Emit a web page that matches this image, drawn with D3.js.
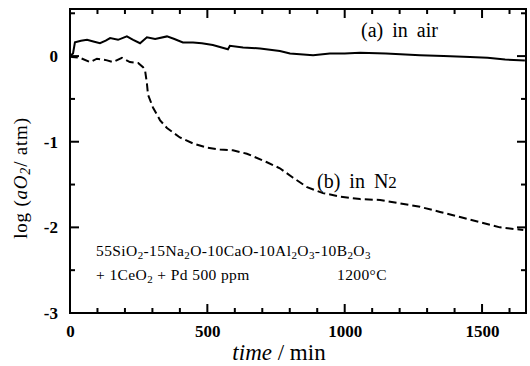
<!DOCTYPE html>
<html><head><meta charset="utf-8">
<script src="https://cdn.jsdelivr.net/npm/d3@7"></script>
<style>body{margin:0;background:#fff}svg{display:block}text{font-family:"Liberation Serif","Times New Roman",serif;fill:#000}</style>
</head><body><svg id="c" width="530" height="366"></svg>
<script>
const airTime = [0,11,18,40,62,85,109,130,146,175,207,230,255,280,310,353,380,411,448,480,520,575,582,630,692,764,801,885,946,1000,1056,1150,1274,1360,1456,1520,1584,1656];
const airLog  = [0,0.03,0.16,0.18,0.19,0.17,0.15,0.18,0.21,0.19,0.23,0.19,0.15,0.22,0.20,0.23,0.20,0.16,0.16,0.15,0.13,0.08,0.12,0.10,0.09,0.06,0.03,0.01,0.03,0.03,0.04,0.03,0.01,0.0,-0.01,-0.02,-0.04,-0.05];
const n2Time = [0,7,36,73,98,135,157,189,218,248,266,273,280,284,302,328,353,400,448,499,546,593,644,666,717,764,812,863,921,983,1056,1129,1201,1274,1347,1420,1493,1565,1620,1650];
const n2Log  = [0,-0.01,-0.02,-0.07,-0.03,-0.05,-0.07,-0.02,-0.07,-0.08,-0.13,-0.16,-0.32,-0.45,-0.60,-0.75,-0.84,-0.95,-1.02,-1.07,-1.09,-1.10,-1.14,-1.17,-1.24,-1.31,-1.42,-1.53,-1.60,-1.64,-1.67,-1.68,-1.72,-1.76,-1.82,-1.88,-1.94,-2.00,-2.02,-2.03];
const xTicks = [0,500,1000,1500];
const yTicks = [0,-1,-2,-3];
const xMinorTicks = [100,200,300,400,600,700,800,900,1100,1200,1300,1400,1600];
const yMinorTicks = [-2.5,-1.5,-0.5,0.5];

const svg = d3.select("#c");
const L=70,R=526,T=9,B=313;
const x = d3.scaleLinear().domain([0,1660]).range([L,R]);
const y = d3.scaleLinear().domain([-3,0.55]).range([B,T]);

// frame
svg.append("rect").attr("x",L).attr("y",T).attr("width",R-L).attr("height",B-T)
 .attr("fill","none").attr("stroke","#000").attr("stroke-width",2);

// inward ticks on all four sides (drawn as explicit lines from the scales)
const tg = svg.append("g").attr("class","ticks");
function xt(v,len){
  tg.append("line").attr("x1",x(v)).attr("x2",x(v)).attr("y1",B).attr("y2",B-len);
  tg.append("line").attr("x1",x(v)).attr("x2",x(v)).attr("y1",T).attr("y2",T+len);
}
function yt(v,len){
  tg.append("line").attr("y1",y(v)).attr("y2",y(v)).attr("x1",L).attr("x2",L+len);
  tg.append("line").attr("y1",y(v)).attr("y2",y(v)).attr("x1",R).attr("x2",R-len);
}
xTicks.forEach(v=>xt(v,9)); xMinorTicks.forEach(v=>xt(v,5));
yTicks.forEach(v=>yt(v,9)); yMinorTicks.forEach(v=>yt(v,5));
tg.selectAll("line").attr("stroke","#000").attr("stroke-width",2);

// tick labels
const xa = svg.append("g").attr("transform",`translate(0,${B})`)
  .call(d3.axisBottom(x).tickValues(xTicks).tickSize(0).tickPadding(12).tickFormat(d3.format("d")));
xa.select(".domain").remove();
xa.selectAll("text").attr("font-size",17).attr("font-weight","bold").style("font-family","Liberation Serif");
const ya = svg.append("g").attr("transform",`translate(${L},0)`)
  .call(d3.axisLeft(y).tickValues(yTicks).tickSize(0).tickPadding(12).tickFormat(d=>String(d).replace("\u2212","-")));
ya.select(".domain").remove();
ya.selectAll("text").attr("font-size",17).attr("font-weight","bold").style("font-family","Liberation Serif");

// lines
const line = d3.line().x(d=>x(d[0])).y(d=>y(d[1]));
svg.append("path").datum(airTime.map((t,i)=>[t,airLog[i]])).attr("d",line)
 .attr("fill","none").attr("stroke","#000").attr("stroke-width",2);
svg.append("path").datum(n2Time.map((t,i)=>[t,n2Log[i]])).attr("d",line)
 .attr("fill","none").attr("stroke","#000").attr("stroke-width",2).attr("stroke-dasharray","8,4");

// annotations
svg.append("text").attr("x",361).attr("y",37).attr("font-size",20).attr("word-spacing",4).text("(a)  in air");
const bt = svg.append("text").attr("x",317).attr("y",188).attr("font-size",20).attr("word-spacing",4);
bt.append("tspan").text("(b)  in N");
bt.append("tspan").attr("font-size",17).text("2");

function chem(sel, parts){
  let prevSub=false;
  parts.forEach(([s,sub])=>{
    const ts = sel.append("tspan").text(s);
    if(sub){ ts.attr("font-size",11).attr("dy",prevSub?0:3); }
    else { ts.attr("dy",prevSub?-3:0); }
    prevSub=!!sub;
  });
}
const fs=15.5;
const comp = svg.append("text").attr("x",96).attr("y",256).attr("font-size",fs).attr("letter-spacing",0.4);
chem(comp,[["55SiO",0],["2",1],["-15Na",0],["2",1],["O-10CaO-10Al",0],["2",1],["O",0],["3",1],["-10B",0],["2",1],["O",0],["3",1]]);
const comp2 = svg.append("text").attr("x",96).attr("y",280).attr("font-size",fs).attr("letter-spacing",0.4);
chem(comp2,[["+ 1CeO",0],["2",1],[" + Pd 500 ppm",0]]);
svg.append("text").attr("x",337).attr("y",280).attr("font-size",fs).attr("letter-spacing",0.4).text("1200°C");

// axis titles
const xtt = svg.append("text").attr("x",279).attr("y",360).attr("text-anchor","middle").attr("font-size",23);
xtt.append("tspan").attr("font-style","italic").text("time");
xtt.append("tspan").text(" / min");
const ytt = svg.append("text").attr("transform","translate(27,178) rotate(-90)").attr("text-anchor","middle").attr("font-size",19).attr("letter-spacing",0.8);
ytt.append("tspan").text("log (");
ytt.append("tspan").attr("font-style","italic").text("aO");
ytt.append("tspan").attr("font-style","italic").attr("font-size",14).attr("dy",3).text("2");
ytt.append("tspan").attr("dy",-3).text("/ atm)");
</script></body></html>
